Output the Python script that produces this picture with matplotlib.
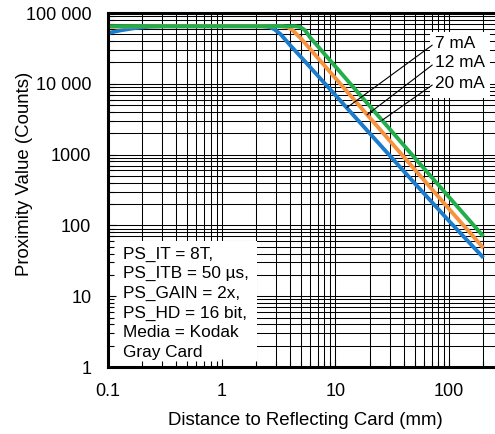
import matplotlib
matplotlib.use('Agg')
import matplotlib.pyplot as plt
from matplotlib.ticker import LogLocator, NullFormatter
from matplotlib.patches import Rectangle
import numpy as np

plt.rcParams['font.family'] = ['Liberation Sans', 'DejaVu Sans']

# distance (mm) / proximity counts
dist_7ma = [0.1, 0.13, 0.17, 0.23, 0.3, 1, 2.3, 2.6, 2.9, 3.3, 4, 5, 7, 10, 20, 50, 100, 200]
counts_7ma = [52000, 57000, 61000, 64000, 65000, 65000, 65000, 63500, 59000, 50000,
              35000, 23700, 13000, 6900, 2000, 390, 115, 35]

dist_12ma = [0.1, 0.2, 1, 3.4, 3.8, 4.2, 5, 7, 10, 20, 50, 100, 200]
counts_12ma = [64000, 65000, 65000, 65000, 63000, 57000, 43300, 23200, 12000, 3330, 612, 170, 48]

dist_20ma = [0.1, 1, 4.4, 4.9, 5.4, 6, 7, 10, 20, 50, 100, 200]
counts_20ma = [65000, 65000, 65000, 63500, 57000, 45000, 33900, 17500, 4860, 893, 250, 70]

series_names = ['7 mA', '12 mA', '20 mA']
series_colors = ['#1b7bcc', '#f7923d', '#22ae4b']
# where the leader lines touch each curve
leader_pts = [(12.6, 4600), (19.0, 3650), (25.7, 3050)]

x_ticks = [0.1, 1, 10, 100]
x_labels = ['0.1', '1', '10', '100']
y_ticks = [1, 10, 100, 1000, 10000, 100000]
y_labels = ['1', '10', '100', '1000', '10 000', '100 000']

note_lines = ['PS_IT = 8T,', 'PS_ITB = 50 µs,', 'PS_GAIN = 2x,',
              'PS_HD = 16 bit,', 'Media = Kodak', 'Gray Card']

XMAX = 253

fig = plt.figure(figsize=(4.95, 4.34), dpi=100)
ax = fig.add_axes([108/495, 67/434, 387/495, 354/434])
ax.set_xscale('log')
ax.set_yscale('log')
ax.set_xlim(0.1, XMAX)
ax.set_ylim(1, 1e5)

# grid drawn by hand so the white boxes can sit between grid and ticks
loc = LogLocator(base=10, subs=np.arange(1, 10))
for xv in loc.tick_values(0.1, XMAX):
    if 0.1 < xv < XMAX:
        ax.axvline(xv, color='black', lw=0.75, zorder=1)
for yv in loc.tick_values(1, 1e5):
    if 1 < yv < 1e5:
        ax.axhline(yv, color='black', lw=0.75, zorder=1)

curves = [(dist_7ma, counts_7ma), (dist_12ma, counts_12ma), (dist_20ma, counts_20ma)]
for (d, c), col in zip(curves, series_colors):
    ax.plot(d, c, color=col, lw=2.8, zorder=2, solid_capstyle='butt')

ax.set_xticks(x_ticks, labels=x_labels)
ax.set_yticks(y_ticks, labels=y_labels)
ax.xaxis.set_minor_locator(LogLocator(base=10, subs=np.arange(2, 10)))
ax.yaxis.set_minor_locator(LogLocator(base=10, subs=np.arange(2, 10), numticks=20))
ax.xaxis.set_minor_formatter(NullFormatter())
ax.yaxis.set_minor_formatter(NullFormatter())
ax.tick_params(which='both', direction='in', top=False, right=False, width=0.8, colors='black')
ax.tick_params(which='major', length=6)
ax.tick_params(which='minor', length=4.5)
ax.tick_params(axis='x', labelsize=13, pad=11.5)
ax.tick_params(axis='y', labelsize=13, pad=12)

for s in ['left', 'bottom', 'top']:
    ax.spines[s].set_linewidth(2.2)
ax.spines['right'].set_visible(False)

ax.set_xlabel('Distance to Reflecting Card (mm)', fontsize=13.4)
ax.set_ylabel('Proximity Value (Counts)', fontsize=13.4)
ax.xaxis.set_label_coords(0.51, -0.128)
ax.yaxis.set_label_coords(-0.194, 0.545)

# white box with test conditions
ax.add_patch(Rectangle((0, 0), 0.385, 0.356, transform=ax.transAxes,
                       facecolor='white', edgecolor='none', zorder=1.5))
ax.text(0.039, 0.340, '\n'.join(note_lines), transform=ax.transAxes,
        ha='left', va='top', fontsize=12.4, linespacing=1.38, zorder=3)

# curve labels with leader lines
ax.add_patch(Rectangle((0.832, 0.760), 0.155, 0.186, transform=ax.transAxes,
                       facecolor='white', edgecolor='none', zorder=1.5))
label_y = [0.915, 0.859, 0.802]
for name, pt, ly in zip(series_names, leader_pts, label_y):
    ax.annotate(name, xy=pt, xycoords='data', xytext=(0.845, ly),
                textcoords='axes fraction', ha='left', va='center', fontsize=12.4,
                arrowprops=dict(arrowstyle='-', lw=0.8, color='black',
                                relpos=(0, 0.5), shrinkA=0, shrinkB=0),
                zorder=3)

fig.savefig('out.png', dpi=100)
